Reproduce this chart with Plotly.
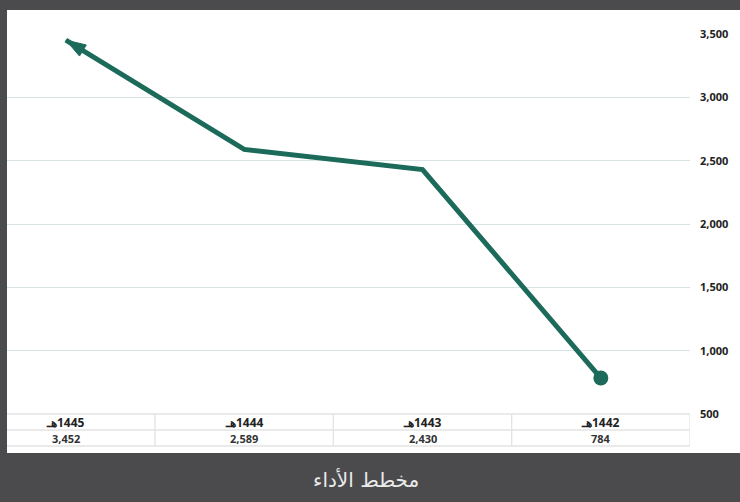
import plotly.graph_objects as go

categories = ["1442هـ", "1443هـ", "1444هـ", "1445هـ"]
values = [784, 2430, 2589, 3452]
value_labels = ["784", "2,430", "2,589", "3,452"]
y_ticks = [500, 1000, 1500, 2000, 2500, 3000, 3500]
title_text = "مخطط الأداء"

W, H = 740, 502
ML, MR, MT, MB = 7, 50, 34, 88
pw = W - ML - MR
ph = H - MT - MB

def px2x(px):
    return (px - ML) / pw

def py2y(py):
    return (H - MB - py) / ph

line_color = "#1b6a5a"

fig = go.Figure()
fig.add_trace(go.Scatter(
    x=categories, y=values, mode="lines",
    line=dict(color=line_color, width=5),
    hoverinfo="skip", showlegend=False, cliponaxis=False,
))
fig.add_trace(go.Scatter(
    x=categories[:1], y=values[:1], mode="markers",
    marker=dict(symbol="circle", size=15, color=line_color, line=dict(width=0)),
    hoverinfo="skip", showlegend=False, cliponaxis=False,
))
fig.add_trace(go.Scatter(
    x=categories[-2:], y=values[-2:], mode="markers",
    marker=dict(symbol="arrow", size=[0, 21], color=line_color, angleref="previous",
                line=dict(width=1, color=line_color), opacity=1),
    hoverinfo="skip", showlegend=False, cliponaxis=False,
))

shapes = []
shapes.append(dict(type="rect", xref="paper", yref="paper",
                   x0=px2x(7), x1=px2x(741), y0=py2y(453), y1=py2y(10),
                   fillcolor="white", line=dict(width=0), layer="below"))
grid_col = "#e3e3e3"
row_y = [414, 430, 446]
for ry in row_y:
    shapes.append(dict(type="line", xref="paper", yref="paper",
                       x0=px2x(7), x1=px2x(690), y0=py2y(ry), y1=py2y(ry),
                       line=dict(color=grid_col, width=1.3)))
for i in range(len(categories)):
    shapes.append(dict(type="line", xref="x", yref="paper",
                       x0=i - 0.5, x1=i - 0.5, y0=py2y(446), y1=py2y(414),
                       line=dict(color=grid_col, width=1.3)))

annotations = []
for c, v in zip(categories, value_labels):
    annotations.append(dict(x=c, xref="x", yref="paper", y=py2y(422),
                            text="<b>\u202B" + c + "\u202C</b>", showarrow=False,
                            font=dict(size=12, color="#222222", family="Open Sans"),
                            xanchor="center", yanchor="middle"))
    annotations.append(dict(x=c, xref="x", yref="paper", y=py2y(438),
                            text="<b>" + v + "</b>", showarrow=False,
                            font=dict(size=11, color="#333333", family="Open Sans"),
                            xanchor="center", yanchor="middle"))
annotations.append(dict(x=px2x(366), xref="paper", y=py2y(480), yref="paper",
                        text=title_text, showarrow=False,
                        font=dict(size=20, color="#eaeaea", family="DejaVu Sans"),
                        xanchor="center", yanchor="middle"))

fig.update_layout(
    width=W, height=H,
    margin=dict(l=ML, r=MR, t=MT, b=MB, pad=0),
    paper_bgcolor="#4b4b4d",
    plot_bgcolor="white",
    xaxis=dict(type="category", categoryorder="array", categoryarray=categories,
               range=[3.33, -0.5], showgrid=False, showticklabels=False,
               zeroline=False, showline=False, fixedrange=True),
    yaxis=dict(range=[500, 3500], side="right", tickvals=y_ticks,
               tickformat=",d", showgrid=True, gridcolor="#d6e4e4", gridwidth=1.2,
               zeroline=False, showline=False, ticks="", ticklabelstandoff=9,
               tickfont=dict(size=11, color="#222222", family="Open Sans", weight="bold"),
               fixedrange=True),
    shapes=shapes,
    annotations=annotations,
)

fig.write_html("out.html", config={"displayModeBar": False},
               post_script="document.body.style.margin='0';document.body.style.overflow='hidden';")
